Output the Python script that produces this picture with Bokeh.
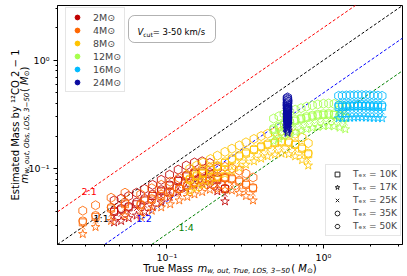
import math
from bokeh.plotting import figure
from bokeh.models import Range1d, FixedTicker, Label, Legend, LegendItem, BoxAnnotation
from bokeh.embed import file_html
from bokeh.resources import INLINE

# ---------------- data ----------------
masses = ["2", "4", "8", "12", "16", "24"]
mass_colors = ["#c00000", "#ff6600", "#ffc400", "#a6ff4c", "#00bbff", "#0a0aa0"]
temps = ["10K", "17K", "25K", "35K", "50K"]
temp_markers = ["square", "star", "x", "circle", "hex"]
temp_sizes = [7, 9, 7, 8, 9]

x_2M = [0.046, 0.051, 0.057, 0.064, 0.072, 0.081, 0.092, 0.104, 0.118, 0.133, 0.150, 0.168, 0.188, 0.210, 0.235]
y_2M_10K = [0.040, 0.042, 0.044, 0.047, 0.051, 0.056, 0.062, 0.070, 0.077, 0.085, 0.090, 0.092, 0.089, 0.079, 0.065]
y_2M_17K = [0.032, 0.033, 0.035, 0.037, 0.040, 0.044, 0.049, 0.055, 0.061, 0.066, 0.071, 0.073, 0.070, 0.062, 0.050]
y_2M_25K = [0.036, 0.038, 0.040, 0.043, 0.046, 0.050, 0.056, 0.062, 0.070, 0.076, 0.081, 0.083, 0.080, 0.071, 0.058]
y_2M_35K = [0.041, 0.043, 0.045, 0.049, 0.053, 0.058, 0.064, 0.071, 0.079, 0.087, 0.092, 0.095, 0.092, 0.081, 0.066]
y_2M_50K = [0.051, 0.053, 0.056, 0.060, 0.065, 0.071, 0.079, 0.088, 0.098, 0.107, 0.114, 0.117, 0.113, 0.100, 0.082]

x_4M = [0.029, 0.035, 0.044, 0.054, 0.068, 0.080, 0.092, 0.105, 0.120, 0.135, 0.150, 0.168, 0.188, 0.210, 0.235, 0.260, 0.290, 0.320, 0.355]
y_4M_10K = [0.032, 0.036, 0.043, 0.047, 0.046, 0.052, 0.056, 0.060, 0.065, 0.070, 0.074, 0.078, 0.081, 0.083, 0.082, 0.080, 0.076, 0.071, 0.066]
y_4M_17K = [0.025, 0.029, 0.033, 0.037, 0.036, 0.041, 0.044, 0.047, 0.051, 0.055, 0.058, 0.061, 0.064, 0.065, 0.064, 0.063, 0.060, 0.056, 0.051]
y_4M_25K = [0.029, 0.033, 0.038, 0.043, 0.041, 0.047, 0.050, 0.054, 0.058, 0.062, 0.067, 0.070, 0.073, 0.075, 0.074, 0.072, 0.068, 0.064, 0.059]
y_4M_35K = [0.033, 0.037, 0.044, 0.049, 0.047, 0.053, 0.058, 0.062, 0.066, 0.071, 0.076, 0.080, 0.083, 0.085, 0.084, 0.082, 0.078, 0.073, 0.067]
y_4M_50K = [0.041, 0.046, 0.054, 0.060, 0.058, 0.066, 0.071, 0.076, 0.082, 0.088, 0.094, 0.099, 0.103, 0.105, 0.104, 0.101, 0.096, 0.090, 0.083]

x_8M = [0.140, 0.155, 0.170, 0.190, 0.210, 0.235, 0.260, 0.290, 0.320, 0.360, 0.400, 0.440, 0.490, 0.540, 0.600, 0.660, 0.730, 0.800]
y_8M_10K = [0.079, 0.085, 0.090, 0.097, 0.104, 0.113, 0.121, 0.130, 0.138, 0.149, 0.158, 0.166, 0.172, 0.175, 0.174, 0.166, 0.153, 0.136]
y_8M_17K = [0.062, 0.066, 0.071, 0.076, 0.082, 0.089, 0.095, 0.102, 0.109, 0.117, 0.124, 0.130, 0.135, 0.138, 0.136, 0.130, 0.120, 0.107]
y_8M_25K = [0.071, 0.076, 0.081, 0.087, 0.094, 0.102, 0.109, 0.116, 0.124, 0.133, 0.142, 0.149, 0.155, 0.158, 0.156, 0.149, 0.138, 0.122]
y_8M_35K = [0.081, 0.087, 0.092, 0.100, 0.107, 0.116, 0.124, 0.133, 0.142, 0.152, 0.162, 0.170, 0.177, 0.180, 0.178, 0.170, 0.157, 0.139]
y_8M_50K = [0.100, 0.107, 0.114, 0.123, 0.132, 0.143, 0.153, 0.164, 0.175, 0.188, 0.200, 0.210, 0.218, 0.222, 0.220, 0.210, 0.194, 0.172]

x_12M = [0.480, 0.520, 0.560, 0.610, 0.660, 0.720, 0.780, 0.850, 0.920, 1.000, 1.080, 1.170, 1.270, 1.380]
y_12M_10K = [0.229, 0.241, 0.253, 0.265, 0.277, 0.286, 0.295, 0.303, 0.310, 0.314, 0.316, 0.313, 0.305, 0.294]
y_12M_17K = [0.180, 0.189, 0.198, 0.208, 0.217, 0.224, 0.232, 0.238, 0.243, 0.247, 0.248, 0.246, 0.239, 0.231]
y_12M_25K = [0.206, 0.217, 0.227, 0.238, 0.249, 0.257, 0.266, 0.273, 0.278, 0.283, 0.284, 0.281, 0.274, 0.264]
y_12M_35K = [0.235, 0.247, 0.259, 0.271, 0.284, 0.293, 0.303, 0.311, 0.318, 0.322, 0.324, 0.321, 0.313, 0.301]
y_12M_50K = [0.290, 0.305, 0.320, 0.335, 0.350, 0.362, 0.374, 0.384, 0.392, 0.398, 0.400, 0.396, 0.386, 0.372]

x_16M = [1.250, 1.320, 1.400, 1.480, 1.570, 1.660, 1.760, 1.870, 1.980, 2.100, 2.230, 2.370]
y_16M_10K = [0.372, 0.373, 0.374, 0.376, 0.377, 0.378, 0.378, 0.377, 0.376, 0.374, 0.373, 0.372]
y_16M_17K = [0.292, 0.293, 0.294, 0.295, 0.296, 0.297, 0.297, 0.296, 0.295, 0.294, 0.293, 0.292]
y_16M_25K = [0.334, 0.335, 0.337, 0.338, 0.339, 0.340, 0.340, 0.339, 0.338, 0.337, 0.335, 0.334]
y_16M_35K = [0.385, 0.387, 0.389, 0.390, 0.391, 0.392, 0.392, 0.391, 0.390, 0.388, 0.387, 0.385]
y_16M_50K = [0.470, 0.472, 0.474, 0.476, 0.477, 0.478, 0.478, 0.477, 0.476, 0.474, 0.472, 0.470]

x_24M = [0.590, 0.586, 0.592, 0.588, 0.594, 0.589, 0.585, 0.591, 0.587, 0.593, 0.589, 0.590]
y_24M_10K = [0.359, 0.352, 0.344, 0.336, 0.328, 0.320, 0.312, 0.304, 0.296, 0.288, 0.280, 0.273]
y_24M_17K = [0.282, 0.276, 0.270, 0.264, 0.257, 0.251, 0.245, 0.239, 0.233, 0.226, 0.220, 0.214]
y_24M_25K = [0.323, 0.316, 0.309, 0.302, 0.295, 0.288, 0.280, 0.273, 0.266, 0.259, 0.252, 0.245]
y_24M_35K = [0.369, 0.360, 0.352, 0.344, 0.336, 0.328, 0.320, 0.312, 0.304, 0.296, 0.288, 0.279]
y_24M_50K = [0.455, 0.445, 0.435, 0.425, 0.415, 0.405, 0.395, 0.385, 0.375, 0.365, 0.355, 0.345]

series = {
    "2": (x_2M, [y_2M_10K, y_2M_17K, y_2M_25K, y_2M_35K, y_2M_50K]),
    "4": (x_4M, [y_4M_10K, y_4M_17K, y_4M_25K, y_4M_35K, y_4M_50K]),
    "8": (x_8M, [y_8M_10K, y_8M_17K, y_8M_25K, y_8M_35K, y_8M_50K]),
    "12": (x_12M, [y_12M_10K, y_12M_17K, y_12M_25K, y_12M_35K, y_12M_50K]),
    "16": (x_16M, [y_16M_10K, y_16M_17K, y_16M_25K, y_16M_35K, y_16M_50K]),
    "24": (x_24M, [y_24M_10K, y_24M_17K, y_24M_25K, y_24M_35K, y_24M_50K]),
}

ratio_values = [2.0, 1.0, 0.5, 0.25]
ratio_colors = ["#ff0000", "#000000", "#0000ff", "#008000"]
ratio_texts = ["2:1", "1:1", "1:2", "1:4"]
ratio_label_x = [0.0285, 0.0340, 0.0639, 0.1186]
ratio_label_y = [0.0616, 0.0347, 0.0347, 0.0287]

axis_min, axis_max = 0.02, 3.2
tick_values = [0.1, 1.0]
tick_labels = ["10\u207b\u00b9", "10\u2070"]

# ---------------- geometry (canvas pixels of the axes box) ----------------
W_PX, H_PX = 407, 276
BOX_L, BOX_R, BOX_T, BOX_B = 57, 402, 5, 244
lspan = math.log10(axis_max) - math.log10(axis_min)
ppd_x = (BOX_R - BOX_L) / lspan
ppd_y = (BOX_B - BOX_T) / lspan
x_start = 10 ** (math.log10(axis_min) - BOX_L / ppd_x)
x_end = 10 ** (math.log10(axis_max) + (W_PX - BOX_R) / ppd_x)
y_end = 10 ** (math.log10(axis_max) + BOX_T / ppd_y)
y_start = 10 ** (math.log10(axis_min) - (H_PX - BOX_B) / ppd_y)

FONT = "DejaVu Sans"
p = figure(width=W_PX, height=H_PX, x_axis_type="log", y_axis_type="log",
           x_range=Range1d(x_start, x_end), y_range=Range1d(y_start, y_end),
           output_backend="svg", toolbar_location=None,
           min_border_left=0, min_border_right=0, min_border_top=0, min_border_bottom=0)
p.grid.visible = False
p.outline_line_color = None

for ax, minors, standoff in ((p.xaxis[0], [0.03, 0.04, 0.05, 0.06, 0.07, 0.08, 0.09, 0.2, 0.3, 0.4, 0.5, 0.6, 0.7, 0.8, 0.9, 2.0, 3.0], 3),
                             (p.yaxis[0], [0.03, 0.04, 0.05, 0.06, 0.07, 0.08, 0.09, 0.2, 0.3, 0.4, 0.5, 0.6, 0.7, 0.8, 0.9, 2.0, 3.0], 4)):
    ax.fixed_location = axis_min
    ax.bounds = (axis_min, axis_max)
    ax.ticker = FixedTicker(ticks=tick_values, minor_ticks=minors)
    ax.major_label_overrides = dict(zip(tick_values, tick_labels))
    ax.major_label_text_font = FONT
    ax.major_label_text_font_size = "9.5px"
    ax.major_label_text_color = "black"
    ax.major_label_standoff = standoff
    ax.major_tick_out = 4
    ax.major_tick_in = 0
    ax.minor_tick_out = 2
    ax.minor_tick_in = 0
    ax.axis_line_color = "black"
    ax.major_tick_line_color = "black"
    ax.minor_tick_line_color = "black"

# axes box
p.add_layout(BoxAnnotation(left=axis_min, right=axis_max, bottom=axis_min, top=axis_max,
                           fill_alpha=0, line_color="black", line_width=1, line_alpha=1.0,
                           level="underlay"))

# reference lines (clipped to the axes box)
for r, c in zip(ratio_values, ratio_colors):
    xa = max(axis_min, axis_min / r)
    xb = min(axis_max, axis_max / r)
    p.line([xa, xb], [r * xa, r * xb], line_color=c, line_dash="3 2", line_width=1)

# data
for m, c in zip(masses, mass_colors):
    xs, ys_list = series[m]
    for mk, sz, ys in zip(temp_markers, temp_sizes, ys_list):
        p.scatter(xs, ys, marker=mk, size=sz, fill_color=None, line_color=c,
                  line_width=1, line_alpha=0.85,
                  angle=(math.pi / 6 if mk == "hex" else 0.0))

# ratio labels
for t, c, lx, ly in zip(ratio_texts, ratio_colors, ratio_label_x, ratio_label_y):
    p.add_layout(Label(x=lx, y=ly, text=t, text_color=c, text_font=FONT,
                       text_font_size="9.5px", text_align="left", text_baseline="alphabetic"))

# legends (renderers with a single NaN point: legend glyph only)
nan = float("nan")
mass_items = []
for m, c in zip(masses, mass_colors):
    r = p.scatter(x=[nan], y=[nan], marker="circle", size=7, fill_color=c, line_color=c)
    mass_items.append(LegendItem(label=m + "M\u2299", renderers=[r]))
temp_items = []
for t, mk in zip(temps, temp_markers):
    r = p.scatter(x=[nan], y=[nan], marker=mk, size=8, fill_color=None, line_color="#222222",
                  line_width=1, angle=(math.pi / 6 if mk == "hex" else 0.0))
    temp_items.append(LegendItem(label="T\u2091\u2093 = " + t, renderers=[r]))

def style_legend(lg, fs):
    lg.glyph_width = 16
    lg.glyph_height = 12
    lg.label_height = 12
    lg.label_standoff = 8
    lg.spacing = 1
    lg.padding = 3
    lg.margin = 0
    lg.label_text_font = FONT
    lg.label_text_font_size = fs
    lg.label_text_baseline = "middle"
    lg.border_line_color = "#cccccc"
    lg.border_line_width = 1
    lg.background_fill_alpha = 0.85

leg1 = Legend(items=mass_items, location=(65, H_PX - 92))
style_legend(leg1, "9.5px")
leg2 = Legend(items=temp_items, location=(325, H_PX - 236))
style_legend(leg2, "9px")
p.add_layout(leg1)
p.add_layout(leg2)

# V_cut box (screen units: frame == canvas, origin bottom-left)
p.add_layout(BoxAnnotation(left=128, right=215, top=H_PX - 15, bottom=H_PX - 42,
                           left_units="screen", right_units="screen",
                           top_units="screen", bottom_units="screen",
                           fill_color="white", fill_alpha=1.0, line_color="black",
                           line_width=1, border_radius=6))

W = {' ': .318, '(': .390, ')': .390, ',': .318, '-': .361, '/': .337, '=': .838,
     'C': .698, 'E': .632, 'K': .656, 'L': .557, 'M': .863, 'O': .787, 'S': .635,
     'T': .611, 'V': .684, 'a': .613, 'b': .635, 'c': .550, 'd': .635, 'e': .615,
     'k': .579, 'm': .974, 'o': .612, 'r': .411, 's': .521, 't': .392, 'u': .634,
     'w': .818, 'y': .592, 'i': .278, '\u2212': .838, '\u2299': .838}
def tw(s, size):
    return sum(W.get(ch, .636) for ch in s) * size

def seg_label(text, x, y, size, style="normal", angle=0.0, align="left"):
    p.add_layout(Label(x=x, y=y, x_units="screen", y_units="screen", text=text,
                       text_font=FONT, text_font_size=f"{size}px", text_font_style=style,
                       text_align=align, text_baseline="alphabetic", angle=angle,
                       text_color="black"))

# V_cut text
vx, vy = 137, H_PX - 31.5
seg_label("V", vx, vy, 8.5, "italic")
vx += tw("V", 8.5)
seg_label("cut", vx, vy - 2, 6)
vx += tw("cut", 6)
seg_label(" = 3-50 km/s", vx, vy, 8.5)

# x-axis label (composed)
xsegs = [("True Mass ", 10, "normal", 0), ("m", 10, "italic", 0),
         ("w, out, True, LOS, 3\u221250", 7, "italic", 2.5), (" (", 10, "normal", 0),
         ("M", 10, "italic", 0), ("\u2299", 7, "normal", 2.5), (")", 10, "normal", 0)]
total = sum(tw(s, f) for s, f, _, _ in xsegs)
x0 = (BOX_L + BOX_R) / 2 - total / 2
base = H_PX - 268
for s, f, st, d in xsegs:
    seg_label(s, x0, base - d, f, st)
    x0 += tw(s, f)

# y-axis label line 1
ycen = H_PX - (BOX_T + BOX_B) / 2
seg_label("Estimated Mass by \u00b9\u00b2CO 2 \u2212 1", 14.5, ycen, 10,
          angle=math.pi / 2, align="center")
# y-axis label line 2 (composed, rotated)
ysegs = [("m", 10, "italic", 0), ("w, out, Obs, LOS, 3\u221250", 7, "italic", 2.5),
         (" (", 10, "normal", 0), ("M", 10, "italic", 0), ("\u2299", 7, "normal", 2.5),
         (")", 10, "normal", 0)]
total = sum(tw(s, f) for s, f, _, _ in ysegs)
y0 = ycen - total / 2
for s, f, st, d in ysegs:
    seg_label(s, 24 + d, y0, f, st, angle=math.pi / 2)
    y0 += tw(s, f)

open("out.html", "w").write(file_html(p, INLINE))
